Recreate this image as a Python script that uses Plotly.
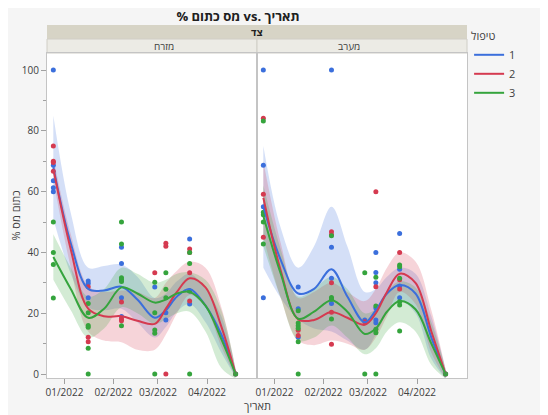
import plotly.graph_objects as go

# ---------------- data ----------------
GROUPS = ['1', '2', '3']
PANELS = ['מזרח', 'מערב']
POINT_DATES = ['2021-12-25', '2022-01-16', '2022-02-06', '2022-02-27',
               '2022-03-06', '2022-03-21', '2022-04-19']
TICK_DATES = ['2022-01-01', '2022-02-01', '2022-03-01', '2022-04-01']
TICK_TEXT = ['01/2022', '02/2022', '03/2022', '04/2022']
Y_TICKS = [0, 20, 40, 60, 80, 100]

# observations: one list per POINT_DATES entry
east_pts_1 = [[100, 68.7, 63.6, 61.3, 60], [30.6, 29.8, 25.1], [41.7, 36.4, 25.1, 18.9],
              [28.6], [20.2, 17.8], [44.4, 27.3, 23], [0]]
east_pts_2 = [[75, 70, 69.6, 66.7], [28.7, 12.1, 10.6], [23.7, 18.1, 17.5],
              [33.3], [43, 42, 0], [41.1, 40, 33.3, 24], [0]]
east_pts_3 = [[50, 40, 36, 25], [23.2, 20.2, 16, 15.4, 8.5, 0], [50, 42.8, 31.7, 31.1, 30.4, 15.9],
              [30.2, 20.2, 14.5, 13.4, 0], [33.3, 27.9, 25.1], [40, 36.4, 27.3, 0], [0]]
west_pts_1 = [[100, 68.7, 55, 25.1], [28.6, 21.5, 12.1], [100, 41.7, 31.5, 23.2],
              [17.8], [40, 33.4, 30, 21.7, 17.8, 16.9], [46.2, 34.5, 29, 25.1], [0]]
west_pts_2 = [[84.1, 59.1, 45], [14.4, 12.7], [46.8, 45.8, 30, 20.3, 9.8],
              [17.2], [60, 28.7], [40, 31, 28], [0]]
west_pts_3 = [[83.2, 53.2, 52.4, 50, 42.8], [20.8, 16.8, 15.9, 15.1, 10.6, 0], [45.5, 25.2, 24.6, 18.1],
              [33.3, 0], [31.8, 22.4, 14.7, 13.6, 0], [35.9, 35.3, 31.5, 23.8, 22.7, 14.2], [0]]

# smoother
FIT_DATES = ['2021-12-25', '2022-01-05', '2022-01-16', '2022-01-26', '2022-02-06',
             '2022-02-16', '2022-02-27', '2022-03-06', '2022-03-13', '2022-03-21',
             '2022-03-31', '2022-04-10', '2022-04-19']
east_fit_1 = [68, 43, 28, 27.5, 28.7, 24.5, 18.5, 21, 25.5, 28, 22.5, 13, 0]
east_lo_1 = [51, 33, 22, 21, 21.5, 17, 12, 15.5, 20.5, 23, 17, 7, -1]
east_hi_1 = [85, 53, 35, 35.5, 36, 32, 25, 26.5, 30.5, 33, 28, 19, 1.5]
east_fit_2 = [67.5, 41, 21.5, 19, 19, 17.5, 16.5, 21.5, 27, 31.5, 28.5, 15.6, 0]
east_lo_2 = [64, 35, 14, 11, 10.5, 8, 8, 13, 20, 26, 22, 9, -1]
east_hi_2 = [71, 46, 29, 27, 27.5, 27, 25, 30, 34, 37, 35, 22, 1.5]
east_fit_3 = [38.5, 28, 18.5, 21.5, 28.5, 26.5, 23.5, 24.5, 26.5, 27, 22.5, 11.5, 0]
east_lo_3 = [31, 21, 12, 15, 22, 20, 16.5, 18, 20, 20.5, 14, 2, -1.5]
east_hi_3 = [46, 35, 25.5, 28, 35, 33, 30, 31, 33, 33.5, 31, 21, 1.5]
west_fit_1 = [55, 37.5, 26.5, 28, 34.5, 25.5, 17, 21, 26.5, 29.3, 26.5, 12, 0]
west_lo_1 = [35, 25, 18, 15, 14, 11, 8, 13, 20, 24, 20, 5, -1.5]
west_hi_1 = [75, 48, 35, 42, 55, 42, 27, 28, 32, 35, 33, 19, 1.5]
west_fit_2 = [58, 34, 18, 17.8, 20.4, 18.5, 16.2, 20, 27, 33, 30, 14, 0]
west_lo_2 = [45, 25, 11, 9.5, 11, 10, 8, 12, 19, 27, 23, 7, -1.5]
west_hi_2 = [70, 43, 25, 27, 30, 27, 24, 28, 35, 40, 37, 21, 1.5]
west_fit_3 = [52, 33, 18.2, 20.5, 24.3, 20.5, 13.2, 15, 20.5, 24, 21.3, 10, 0]
west_lo_3 = [42, 25, 11, 12, 16, 12, 6.5, 8.5, 14, 17, 14, 3, -1.5]
west_hi_3 = [62, 41, 25.5, 28, 32, 28, 20, 21.5, 27, 30.5, 28.5, 17, 1.5]

COLORS = {'1': '#3b6fdc', '2': '#d53a50', '3': '#35a43d'}
FILLS = {'1': 'rgba(59,111,220,0.22)', '2': 'rgba(213,58,80,0.22)', '3': 'rgba(53,164,61,0.22)'}

panel_data = {
    'מזרח': {'pts': [east_pts_1, east_pts_2, east_pts_3],
             'fit': [east_fit_1, east_fit_2, east_fit_3],
             'lo': [east_lo_1, east_lo_2, east_lo_3],
             'hi': [east_hi_1, east_hi_2, east_hi_3]},
    'מערב': {'pts': [west_pts_1, west_pts_2, west_pts_3],
             'fit': [west_fit_1, west_fit_2, west_fit_3],
             'lo': [west_lo_1, west_lo_2, west_lo_3],
             'hi': [west_hi_1, west_hi_2, west_hi_3]},
}

FONT = 'Open Sans, Noto Sans, DejaVu Sans, sans-serif'
LRM = '\u200e'
fig = go.Figure()

axes = [('x', 'y'), ('x2', 'y2')]
for p, panel in enumerate(PANELS):
    xa, ya = axes[p]
    d = panel_data[panel]
    for g, grp in enumerate(GROUPS):
        fig.add_trace(go.Scatter(x=FIT_DATES, y=d['lo'][g], mode='lines', xaxis=xa, yaxis=ya,
                                 line=dict(width=0, shape='spline', smoothing=1.0),
                                 showlegend=False, hoverinfo='skip'))
        fig.add_trace(go.Scatter(x=FIT_DATES, y=d['hi'][g], mode='lines', xaxis=xa, yaxis=ya,
                                 line=dict(width=0, shape='spline', smoothing=1.0),
                                 fill='tonexty', fillcolor=FILLS[grp],
                                 showlegend=False, hoverinfo='skip'))
    for g, grp in enumerate(GROUPS):
        xs, ys = [], []
        for di, vals in enumerate(d['pts'][g]):
            xs += [POINT_DATES[di]] * len(vals)
            ys += vals
        fig.add_trace(go.Scatter(x=xs, y=ys, mode='markers', xaxis=xa, yaxis=ya,
                                 marker=dict(size=5, color=COLORS[grp]),
                                 showlegend=False))
    for g, grp in enumerate(GROUPS):
        fig.add_trace(go.Scatter(x=FIT_DATES, y=d['fit'][g], mode='lines', xaxis=xa, yaxis=ya,
                                 line=dict(width=2, color=COLORS[grp], shape='spline', smoothing=1.0),
                                 name=grp, legendgroup=grp, showlegend=(p == 0)))

XRANGE = ['2021-12-21', '2022-05-02 12:00']
YRANGE = [-1.3, 105.6]
xcommon = dict(range=XRANGE, tickvals=TICK_DATES, ticktext=TICK_TEXT, ticks='outside',
               ticklen=5, tickcolor='#a0a0a0', showline=True, linecolor='#c4c4c4',
               mirror=True, showgrid=False, zeroline=False, tickangle=0, automargin=False,
               tickfont=dict(family=FONT, size=10, color='#404040'))
ycommon = dict(range=YRANGE, showline=True, linecolor='#c4c4c4', mirror=True,
               showgrid=False, zeroline=False, automargin=False)

# the page places the figure 8px in from the window corner
W, H = 540, 407
L, R, T, B = 39, 81, 45, 37
PH = H - T - B

fig.update_layout(
    width=W, height=H,
    margin=dict(l=L, r=R, t=T, b=B, autoexpand=False),
    paper_bgcolor='#f5f5f5', plot_bgcolor='white',
    font=dict(family=FONT, size=11, color='#404040'),
    xaxis=dict(domain=[0, 0.5], anchor='y', **xcommon),
    xaxis2=dict(domain=[0.5, 1], anchor='y2', **xcommon),
    yaxis=dict(anchor='x', tickvals=Y_TICKS, ticks='outside', ticklen=5, tickcolor='#a0a0a0',
               minor=dict(dtick=10, ticklen=3, tickcolor='#a0a0a0', ticks='outside', showgrid=False),
               tickfont=dict(family=FONT, size=10, color='#404040'),
               title=dict(text='%' + LRM + ' מס' + LRM + ' כתום', standoff=6,
                          font=dict(family=FONT, size=11, color='#404040')),
               **ycommon),
    yaxis2=dict(anchor='x2', matches='y', showticklabels=False, ticks='', **ycommon),
    title=dict(text='<b>% מס כתום vs. תאריך</b>',
               x=230 / W, xanchor='center', xref='container',
               y=1 - 8 / H, yanchor='middle', yref='container',
               font=dict(family=FONT, size=13, color='#202020')),
    legend=dict(title=dict(text='טיפול', font=dict(family=FONT, size=11, color='#404040')),
                x=1.005, xanchor='left', y=1 + 27 / PH, yanchor='top',
                bgcolor='rgba(0,0,0,0)', itemwidth=30, tracegroupgap=0,
                font=dict(family=FONT, size=11, color='#404040')),
    showlegend=True,
)

band_lo = 1 + 14 / PH
band_hi = 1 + 28 / PH
fig.add_shape(type='rect', xref='paper', yref='paper', x0=0, x1=1, y0=band_lo, y1=band_hi,
              fillcolor='#d7d4c6', line=dict(width=0), layer='below')
fig.add_shape(type='rect', xref='paper', yref='paper', x0=0, x1=0.5, y0=1, y1=band_lo,
              fillcolor='#ecebe5', line=dict(color='#d0cec6', width=1), layer='below')
fig.add_shape(type='rect', xref='paper', yref='paper', x0=0.5, x1=1, y0=1, y1=band_lo,
              fillcolor='#ecebe5', line=dict(color='#d0cec6', width=1), layer='below')
fig.add_annotation(text='<b>צד</b>', xref='paper', yref='paper', x=0.5, y=(band_lo + band_hi) / 2,
                   yanchor='middle', showarrow=False, font=dict(family=FONT, size=10, color='#202020'))
for p, panel in enumerate(PANELS):
    fig.add_annotation(text=panel, xref='paper', yref='paper', x=0.25 + 0.5 * p,
                       y=(1 + band_lo) / 2, yanchor='middle', showarrow=False,
                       font=dict(family=FONT, size=10, color='#404040'))
fig.add_annotation(text='תאריך', xref='paper', yref='paper', x=0.5, y=-27 / PH,
                   yanchor='middle', showarrow=False,
                   font=dict(family=FONT, size=11, color='#404040'))

fig.write_html('out.html')
